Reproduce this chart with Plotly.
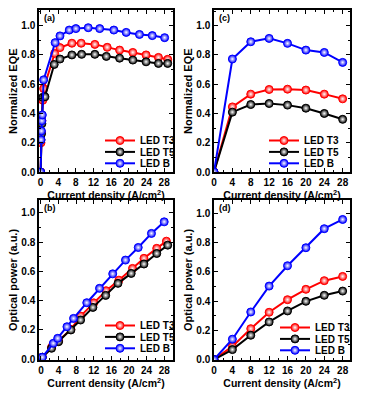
import plotly.graph_objects as go

# ---------------- data ----------------
# (a) Normalized EQE, dense sweep
a_b_x = [0.02, 0.1, 0.2, 0.3, 0.4, 0.7, 3.3, 4.4, 6.5, 8.0, 10.8, 13.4, 16.6, 19.4, 22.4, 25.3, 28.1]
a_b_y = [0.0, 0.22, 0.28, 0.35, 0.39, 0.63, 0.884, 0.93, 0.97, 0.98, 0.986, 0.98, 0.97, 0.954, 0.94, 0.932, 0.918]
a_t3_x = [0.02, 0.1, 0.2, 0.3, 0.5, 0.7, 3.2, 4.4, 7.1, 9.2, 12.3, 15.1, 17.9, 20.9, 23.9, 26.7, 28.8]
a_t3_y = [0.0, 0.2, 0.27, 0.35, 0.49, 0.57, 0.81, 0.85, 0.88, 0.88, 0.872, 0.852, 0.833, 0.817, 0.80, 0.783, 0.77]
a_t5_x = [0.02, 0.1, 0.2, 0.3, 0.5, 1.0, 3.1, 4.4, 7.1, 9.3, 12.3, 14.9, 17.9, 20.9, 23.9, 26.7, 28.8]
a_t5_y = [0.0, 0.22, 0.26, 0.33, 0.51, 0.514, 0.735, 0.772, 0.80, 0.804, 0.804, 0.79, 0.778, 0.765, 0.753, 0.742, 0.742]

# (b) Optical power
b_b_x = [0.3, 2.8, 3.8, 5.9, 7.4, 10.4, 13.3, 16.3, 19.2, 22.1, 25.1, 28.0]
b_b_y = [0.014, 0.109, 0.143, 0.222, 0.279, 0.386, 0.484, 0.583, 0.677, 0.763, 0.859, 0.938]
b_t3_x = [0.3, 2.4, 4.0, 6.8, 9.0, 12.0, 14.8, 17.7, 20.8, 23.4, 26.3, 28.5]
b_t3_y = [0.014, 0.082, 0.127, 0.204, 0.295, 0.385, 0.468, 0.54, 0.62, 0.689, 0.757, 0.806]
b_t5_x = [0.3, 2.4, 4.0, 6.8, 9.0, 11.8, 14.7, 17.5, 20.5, 23.4, 26.3, 28.8]
b_t5_y = [0.014, 0.075, 0.12, 0.2, 0.268, 0.354, 0.436, 0.518, 0.586, 0.65, 0.722, 0.779]

# (c) Normalized EQE
c_x = [0, 4, 8, 12, 16, 20, 24, 28]
c_b_y = [0.0, 0.772, 0.89, 0.913, 0.879, 0.833, 0.817, 0.749]
c_t3_y = [0.0, 0.445, 0.532, 0.564, 0.566, 0.56, 0.532, 0.5]
c_t5_y = [0.0, 0.409, 0.461, 0.468, 0.457, 0.436, 0.4, 0.36]

# (d) Optical power
d_x = [0, 4, 8, 12, 16, 20, 24, 28]
d_b_y = [0.0, 0.139, 0.325, 0.502, 0.641, 0.764, 0.894, 0.957]
d_t3_y = [0.0, 0.09, 0.211, 0.323, 0.409, 0.48, 0.539, 0.568]
d_t5_y = [0.0, 0.068, 0.166, 0.257, 0.332, 0.398, 0.439, 0.468]

names = ["LED T3", "LED T5", "LED B"]
colors = ["#ff0000", "#000000", "#0000ff"]
x_ticks = [0, 4, 8, 12, 16, 20, 24, 28]
y_ticks = [0.0, 0.2, 0.4, 0.6, 0.8, 1.0]
x_title = "Current density (A/cm<sup>2</sup>)"

W, H = 367, 397
FONT = "Liberation Sans"

fig = go.Figure()

# axes box in pixels, legend text-left / first-row-centre in pixels
panels = [
    ("x", "y", "legend", [(a_t3_x, a_t3_y), (a_t5_x, a_t5_y), (a_b_x, a_b_y)], "(a)", "Normalized EQE",
     (39, 173), (10, 172), [-0.35, 30], [0, 1.107], (138, 140)),
    ("x2", "y2", "legend2", [(c_x, c_t3_y), (c_x, c_t5_y), (c_x, c_b_y)], "(c)", "Normalized EQE",
     (214, 350), (10, 172), [0, 29.6], [0, 1.107], (302, 140)),
    ("x3", "y3", "legend3", [(b_t3_x, b_t3_y), (b_t5_x, b_t5_y), (b_b_x, b_b_y)], "(b)", "Optical power (a.u.)",
     (39, 173), (200, 360), [-0.45, 30], [-0.005, 1.087], (138, 325)),
    ("x4", "y4", "legend4", [(d_x, d_t3_y), (d_x, d_t5_y), (d_x, d_b_y)], "(d)", "Optical power (a.u.)",
     (214, 350), (200, 360), [0, 29.6], [-0.003, 1.09], (313, 327)),
]

layout = dict(
    width=W, height=H,
    margin=dict(l=0, r=0, t=0, b=0, autoexpand=False),
    paper_bgcolor="white", plot_bgcolor="white",
    font=dict(family=FONT, color="black", size=10),
    annotations=[],
)

for xa, ya, lg, series, label, ytitle, (px0, px1), (py0, py1), xr, yr, (lx, ly) in panels:
    for (xs, ys), nm, col in zip(series, names, colors):
        fig.add_trace(go.Scatter(
            x=xs, y=ys, name=nm, xaxis=xa, yaxis=ya, legend=lg,
            mode="lines+markers",
            line=dict(color=col, width=2),
            marker=dict(symbol="circle", size=8, color=col,
                        gradient=dict(type="radial", color="white"),
                        line=dict(color=col, width=1)),
        ))
    xkey = "xaxis" + xa[1:]
    ykey = "yaxis" + ya[1:]
    common = dict(showline=True, linecolor="black", linewidth=1.5, mirror="allticks",
                  ticks="inside", ticklen=4, tickwidth=1.2, tickcolor="black",
                  showgrid=False, zeroline=False, automargin=False,
                  tickfont=dict(family=FONT, size=10, weight="bold"))
    layout[xkey] = dict(common, domain=[px0 / W, px1 / W], anchor=ya, range=xr,
                        tickvals=x_ticks,
                        minor=dict(ticks="inside", ticklen=2, tickwidth=1, tickcolor="black", dtick=2, tick0=0),
                        title=dict(text=x_title, standoff=1,
                                   font=dict(family=FONT, size=10.5, weight="bold")))
    layout[ykey] = dict(common, domain=[1 - py1 / H, 1 - py0 / H], anchor=xa, range=yr,
                        tickvals=y_ticks, tickformat=".1f",
                        minor=dict(ticks="inside", ticklen=2, tickwidth=1, tickcolor="black", dtick=0.1, tick0=0))
    layout[lg] = dict(x=(lx - 38) / W, y=1 - (ly - 14) / H, xanchor="left", yanchor="top",
                      bgcolor="rgba(0,0,0,0)", borderwidth=0, itemwidth=30,
                      tracegroupgap=0,
                      font=dict(family=FONT, size=10, weight="bold"))
    layout["annotations"].append(dict(
        text=label, xref="paper", yref="paper", x=(px0 + 3) / W, y=1 - (py0 + 1) / H,
        xanchor="left", yanchor="top", showarrow=False,
        font=dict(family=FONT, size=9, weight="bold")))
    # y-axis title as rotated text, placed beside the tick labels
    layout["annotations"].append(dict(
        text=ytitle, xref="paper", yref="paper", x=(px0 - 26) / W, y=1 - (py0 + py1) / 2 / H,
        xanchor="center", yanchor="middle", textangle=-90, showarrow=False,
        font=dict(family=FONT, size=11, weight="bold")))

fig.update_layout(**layout)

# remove the page margin and tighten the legend row spacing
post = """
document.body.style.margin = '0';
document.body.style.padding = '0';
document.body.style.overflow = 'hidden';
var gd = document.getElementById('{plot_id}');
function tighten(){
  ['legend', 'legend2', 'legend3', 'legend4'].forEach(function(id){
    gd.querySelectorAll('g.' + id).forEach(function(lg){
      var items = lg.querySelectorAll('g.traces');
      if(!items.length) return;
      var m = /translate\\(\\s*([-\\d.e]+)[ ,]+([-\\d.e]+)\\s*\\)/.exec(items[0].getAttribute('transform') || '');
      var x0 = m ? parseFloat(m[1]) : 0;
      var y0 = m ? parseFloat(m[2]) : 0;
      for (var i = 0; i < items.length; i++) {
        items[i].setAttribute('transform', 'translate(' + x0 + ',' + (y0 + i * 11.4) + ')');
      }
    });
  });
}
tighten();
if (gd.on) { gd.on('plotly_afterplot', tighten); }
setTimeout(tighten, 30);
setTimeout(tighten, 200);
setTimeout(tighten, 800);
"""
fig.write_html("out.html", post_script=post, config={"displayModeBar": False})
